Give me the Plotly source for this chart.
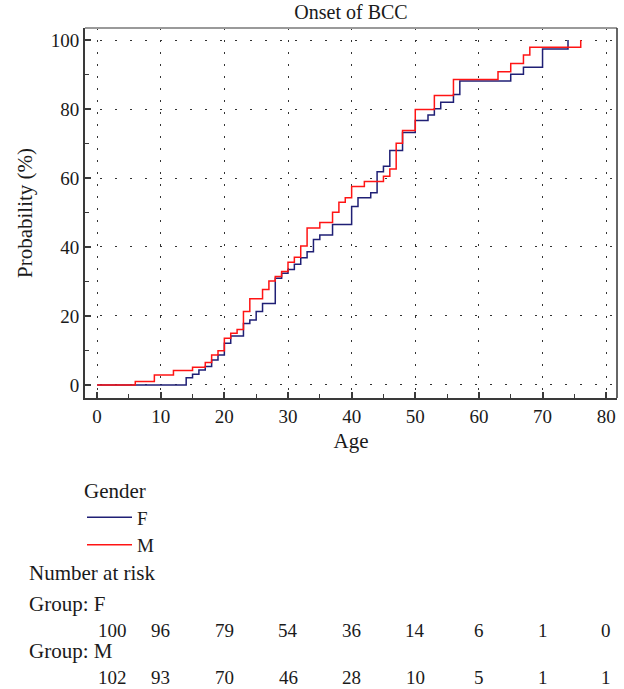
import plotly.graph_objects as go

# ---------------- data ----------------
age_F = [0, 14, 15, 16, 17, 18, 19, 20, 21, 23, 24, 25, 26, 28, 29, 30, 31, 32, 33, 34, 35,
         37, 40, 41, 43, 44, 45, 46, 48, 50, 52, 53, 54, 56, 57, 65, 67, 70, 74]
prob_F = [0, 2.1, 3.1, 4.3, 5.3, 7.2, 8.7, 12.1, 14.2, 17.8, 18.8, 21.3, 23.6, 30.9, 32.4, 33.5, 35.0, 36.9, 38.6, 42.2, 43.5,
          46.5, 51.7, 54.3, 55.7, 61.8, 63.4, 68.0, 73.2, 76.7, 78.3, 80.1, 82.0, 84.2, 88.1, 90.1, 92.1, 97.4, 100.0]

age_M = [0, 6, 9, 12, 15, 17, 18, 19, 20, 21, 22, 23, 24, 26, 27, 28, 29, 30, 31, 32, 33,
         35, 37, 38, 39, 40, 42, 45, 46, 47, 48, 50, 53, 56, 63, 65, 67, 68, 76]
prob_M = [0, 1.0, 2.9, 4.2, 5.1, 6.5, 8.7, 9.9, 13.5, 15.0, 16.1, 21.3, 25.0, 27.7, 30.1, 31.4, 32.9, 35.6, 37.0, 40.3, 45.5,
          47.1, 50.1, 53.0, 54.3, 57.5, 59.0, 60.5, 62.6, 70.1, 73.8, 79.9, 83.9, 88.6, 90.8, 93.2, 95.7, 97.9, 100.0]

risk_times = [0, 10, 20, 30, 40, 50, 60, 70, 80]
risk_F = [100, 96, 79, 54, 36, 14, 6, 1, 0]
risk_M = [102, 93, 70, 46, 28, 10, 5, 1, 1]

x_ticks = [0, 10, 20, 30, 40, 50, 60, 70, 80]
y_ticks = [0, 20, 40, 60, 80, 100]

# ---------------- style ----------------
FONT = "Liberation Serif"
TXT = "#1a1a1a"
BLUE = "#1f1f75"
RED = "#ff1414"
AX = "#3a3a3a"
FS_TICK = 19
FS_TEXT = 21

H = 689
PLOT_TOP = 28
PLOT_BOT = 398


def py(px):
    """pixel row -> paper y"""
    return (PLOT_BOT - px) / (PLOT_BOT - PLOT_TOP)


fig = go.Figure()
fig.add_trace(go.Scatter(x=age_F, y=prob_F, mode="lines", name="F",
                         line=dict(color=BLUE, width=1.5, shape="hv")))
fig.add_trace(go.Scatter(x=age_M, y=prob_M, mode="lines", name="M",
                         line=dict(color=RED, width=1.5, shape="hv")))

annotations = []
lab_x = (27 - 85) / 532
for txt, row in [("Number at risk", 573), ("Group: F", 604), ("Group: M", 651)]:
    annotations.append(dict(text=txt, x=lab_x, y=py(row), xref="paper", yref="paper",
                            xanchor="left", yanchor="middle", showarrow=False,
                            font=dict(size=FS_TEXT, family=FONT, color=TXT)))
for i, (t, nf, nm) in enumerate(zip(risk_times, risk_F, risk_M)):
    shift = 15 if i == 0 else 0
    annotations.append(dict(text=str(nf), x=t, y=py(630), xref="x", yref="paper", xshift=shift,
                            xanchor="center", yanchor="middle", showarrow=False,
                            font=dict(size=FS_TICK, family=FONT, color=TXT)))
    annotations.append(dict(text=str(nm), x=t, y=py(677), xref="x", yref="paper", xshift=shift,
                            xanchor="center", yanchor="middle", showarrow=False,
                            font=dict(size=FS_TICK, family=FONT, color=TXT)))

fig.update_layout(
    width=624, height=H,
    margin=dict(l=85, r=7, t=PLOT_TOP, b=H - PLOT_BOT, pad=0),
    paper_bgcolor="white", plot_bgcolor="white",
    font=dict(family=FONT, size=FS_TEXT, color=TXT),
    title=dict(text="Onset of BCC", x=0.5, xref="paper", xanchor="center",
               y=1 - 12 / H, yref="container", yanchor="middle",
               font=dict(size=20, family=FONT, color=TXT)),
    showlegend=True,
    legend=dict(title=dict(text="Gender", side="top", font=dict(size=FS_TEXT, family=FONT, color=TXT)),
                x=(82 - 85) / 532, y=py(471), xref="paper", yref="paper",
                xanchor="left", yanchor="top", itemwidth=45,
                font=dict(size=19, family=FONT, color=TXT), bgcolor="rgba(0,0,0,0)"),
    annotations=annotations,
    shapes=[
        dict(type="line", xref="paper", yref="paper", x0=0, x1=1, y0=1, y1=1,
             line=dict(color="#9a9a9a", width=2)),
        dict(type="line", xref="paper", yref="paper", x0=1, x1=1, y0=0, y1=1,
             line=dict(color="#333333", width=1.5)),
    ],
)

fig.update_xaxes(
    range=[-1.9, 81.7], tickvals=x_ticks, ticktext=[str(v) for v in x_ticks],
    ticks="inside", ticklen=6, tickwidth=1.5, tickcolor=AX,
    minor=dict(dtick=5, tick0=0, ticks="inside", ticklen=4, tickwidth=1.2, tickcolor=AX, showgrid=False),
    showline=True, linecolor=AX, linewidth=2,
    showgrid=True, gridcolor="#333333", gridwidth=1.2, griddash="1.5px,10.5px",
    zeroline=False, tickfont=dict(size=FS_TICK, family=FONT, color=TXT),
    title=dict(text="Age", standoff=8, font=dict(size=FS_TEXT, family=FONT, color=TXT)),
)
fig.update_yaxes(
    range=[-3.8, 103.5], tickvals=y_ticks, ticktext=[str(v) for v in y_ticks],
    ticks="inside", ticklen=6, tickwidth=1.5, tickcolor=AX,
    minor=dict(dtick=10, tick0=0, ticks="inside", ticklen=4, tickwidth=1.2, tickcolor=AX, showgrid=False),
    showline=True, linecolor=AX, linewidth=2,
    showgrid=True, gridcolor="#333333", gridwidth=1.2, griddash="1.5px,13.5px",
    zeroline=False, tickfont=dict(size=FS_TICK, family=FONT, color=TXT),
    title=dict(text="Probability (%)", standoff=12, font=dict(size=FS_TEXT, family=FONT, color=TXT)),
)

fig.write_html("out.html")
